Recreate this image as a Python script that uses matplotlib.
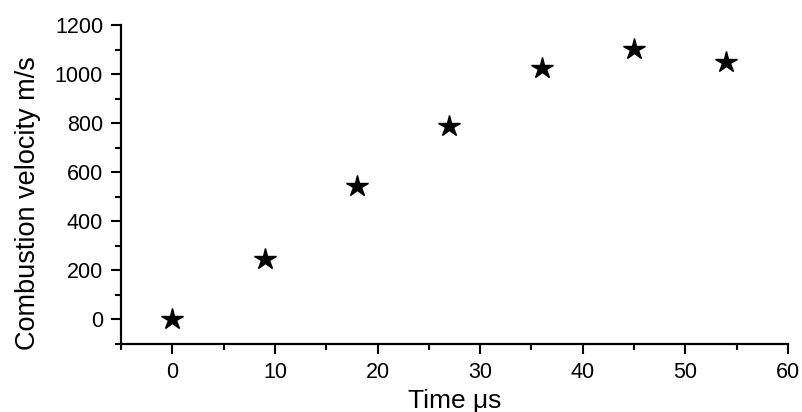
import matplotlib
matplotlib.use("Agg")
import matplotlib.pyplot as plt
from matplotlib.ticker import MultipleLocator

plt.rcParams['font.family'] = ['Liberation Sans', 'DejaVu Sans']

# combustion velocity measurements
time_us = [0, 9, 18, 27, 36, 45, 54]
velocity = [0, 248, 545, 787, 1027, 1101, 1048]

fig = plt.figure(figsize=(8.02, 4.12), dpi=100)
ax = fig.add_axes([0.151, 0.165, 0.8315, 0.774])

ax.plot(time_us, velocity, linestyle='none', marker='*', color='black', markersize=16)

ax.set_xlim(-5, 60)
ax.set_ylim(-100, 1200)
ax.xaxis.set_major_locator(MultipleLocator(10))
ax.xaxis.set_minor_locator(MultipleLocator(5))
ax.yaxis.set_major_locator(MultipleLocator(200))
ax.yaxis.set_minor_locator(MultipleLocator(100))

for side in ['top', 'right']:
    ax.spines[side].set_visible(False)
for side in ['left', 'bottom']:
    ax.spines[side].set_linewidth(1.6)

ax.tick_params(which='major', direction='out', length=7, width=1.5, labelsize=15.5, pad=6)
ax.tick_params(which='minor', direction='out', length=4, width=1.5)

ax.set_xlabel('Time μs', fontsize=19)
ax.set_ylabel('Combustion velocity m/s', fontsize=19.5)
ax.xaxis.set_label_coords(0.5, -0.142)
ax.yaxis.set_label_coords(-0.12, 0.442)

fig.savefig('out.png', dpi=100)
